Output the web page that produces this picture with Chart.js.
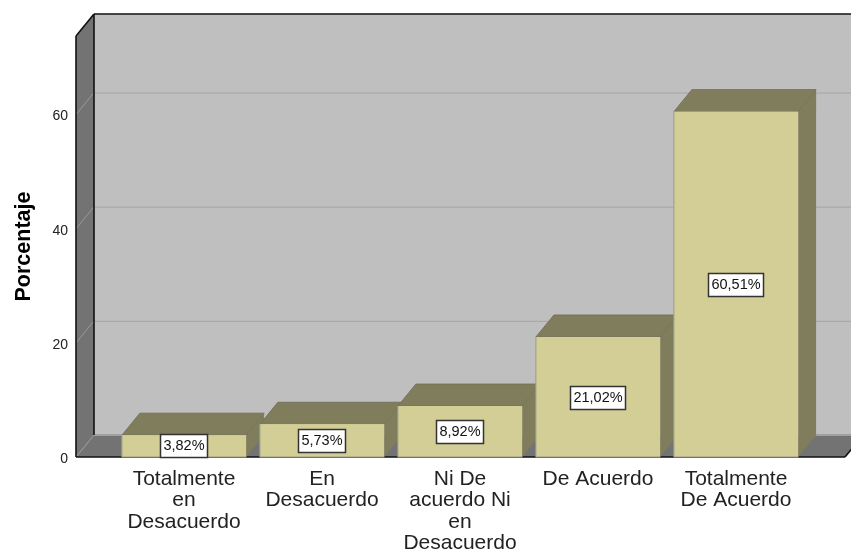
<!DOCTYPE html>
<html><head><meta charset="utf-8">
<style>html,body{margin:0;padding:0;background:#fff}#w{width:851px;height:551px;position:relative}</style>
<script src="https://cdn.jsdelivr.net/npm/chart.js@4/dist/chart.umd.min.js"></script>
</head><body><div id="w"><canvas id="c"></canvas></div>
<script>
const categories = [["Totalmente","en","Desacuerdo"],["En","Desacuerdo"],["Ni De","acuerdo Ni","en","Desacuerdo"],["De Acuerdo"],["Totalmente","De Acuerdo"]];
const percentages = [3.82,5.73,8.92,21.02,60.51];
const yTicks = [0,20,40,60];
const axisTitle = "Porcentaje";
const yMax = 73.76;

const DX = 18, DY = -22;
const FONT = '"Liberation Sans", Arial, sans-serif';
function poly(ctx, pts, fill, stroke, lw){
  ctx.beginPath();
  pts.forEach((p,i)=> i?ctx.lineTo(p[0],p[1]):ctx.moveTo(p[0],p[1]));
  ctx.closePath();
  if(fill){ctx.fillStyle=fill;ctx.fill();}
  if(stroke){ctx.strokeStyle=stroke;ctx.lineWidth=lw||1;ctx.stroke();}
}
function line(ctx,x1,y1,x2,y2,col,lw){
  ctx.beginPath();ctx.moveTo(x1,y1);ctx.lineTo(x2,y2);ctx.strokeStyle=col;ctx.lineWidth=lw||1;ctx.stroke();
}
const box3d = {
  id:'box3d',
  beforeDatasetsDraw(chart){
    const {ctx,chartArea:a,scales:{y}} = chart;
    const L=a.left-39, R=a.right+40, T=a.top, B=a.bottom;
    ctx.save();
    poly(ctx,[[L+DX,T+DY],[R+DX,T+DY],[R+DX,B+DY],[L+DX,B+DY]],'#BFBFBF');
    poly(ctx,[[L,T],[L+DX,T+DY],[L+DX,B+DY],[L,B]],'#737373');
    poly(ctx,[[L,B],[L+DX,B+DY],[R+DX,B+DY],[R,B]],'#737373');
    yTicks.forEach(v=>{
      const py=y.getPixelForValue(v);
      if(v>0) line(ctx,L+DX,py+DY+.5,R+DX,py+DY+.5,'#A6A6A6',1);
      line(ctx,L,py,L+DX,py+DY,'#9A9A9A',1);
    });
    line(ctx,L+DX,B+DY,R+DX,B+DY,'#A0A0A0',2);
    line(ctx,L,T,L,B,'#111',1.6);
    line(ctx,L,T,L+DX,T+DY,'#111',1.6);
    line(ctx,L+DX,T+DY,L+DX,B+DY,'#111',1.6);
    line(ctx,L+DX,T+DY,R+DX,T+DY,'#111',1.6);
    line(ctx,L,B,R,B,'#111',1.6);
    line(ctx,R,B,R+DX,B+DY,'#111',1.6);
    chart.getDatasetMeta(0).data.forEach(bar=>{
      const hw=bar.width/2, x0=bar.x-hw, x1=bar.x+hw, t=bar.y, b=bar.base;
      poly(ctx,[[x1,t],[x1+DX,t+DY],[x1+DX,b+DY],[x1,b]],'#807D5C');
      poly(ctx,[[x0,t],[x0+DX,t+DY],[x1+DX,t+DY],[x1,t]],'#807D5C','#76735A',1);
      poly(ctx,[[x0,t],[x1,t],[x1,b],[x0,b]],'#D2CE96');
    });
    ctx.restore();
  },
  afterDatasetsDraw(chart){
    const {ctx} = chart;
    ctx.save();
    ctx.font='14.5px '+FONT;
    ctx.textAlign='center';ctx.textBaseline='middle';
    chart.getDatasetMeta(0).data.forEach((bar,i)=>{
      const hw=bar.width/2;
      line(ctx,bar.x-hw,bar.y,bar.x-hw,bar.base,'#9C9B85',1);
      line(ctx,bar.x-hw,bar.base,bar.x+hw,bar.base,'#9C9B85',1);
      const s=percentages[i].toFixed(2).replace('.',',')+'%';
      const w=ctx.measureText(s).width+6, h=23, cy=Math.min((bar.y+bar.base)/2,bar.base-11.5);
      ctx.fillStyle='#fff';ctx.fillRect(Math.round(bar.x-w/2)+.5,Math.round(cy-h/2)+.5,Math.round(w),h);
      ctx.strokeStyle='#333';ctx.lineWidth=1.5;ctx.strokeRect(Math.round(bar.x-w/2)+.5,Math.round(cy-h/2)+.5,Math.round(w),h);
      ctx.fillStyle='#111';ctx.fillText(s,bar.x,cy+.5);
    });
    ctx.restore();
  }
};
new Chart(document.getElementById('c'),{
  type:'bar',
  data:{labels:categories,datasets:[{data:percentages,backgroundColor:'#D2CE96',borderWidth:0,barPercentage:0.9,categoryPercentage:1}]},
  plugins:[box3d],
  options:{
    responsive:true,maintainAspectRatio:false,animation:false,
    layout:{padding:{top:36,right:46,left:0,bottom:0}},
    plugins:{legend:{display:false},tooltip:{enabled:false},title:{display:false}},
    scales:{
      x:{grid:{display:false,drawTicks:false},border:{display:false},
         afterFit(s){s.height=94;},
         ticks:{autoSkip:false,maxRotation:0,minRotation:0,padding:11,color:'#222',font:{family:FONT,size:21,lineHeight:'21.5px'}}},
      y:{min:0,max:yMax,grid:{display:false,drawTicks:false},border:{display:false},
         afterBuildTicks(s){s.ticks=yTicks.map(v=>({value:v}));},
         afterFit(s){s.width=115;s.paddingTop=0;s.paddingBottom=0;},
         ticks:{padding:47,labelOffset:2,color:'#222',font:{family:FONT,size:14}},
         title:{display:true,text:axisTitle,color:'#000',padding:{top:11,bottom:0},font:{family:FONT,size:21.5,weight:'bold'}}}
    }
  }
});
</script></body></html>
